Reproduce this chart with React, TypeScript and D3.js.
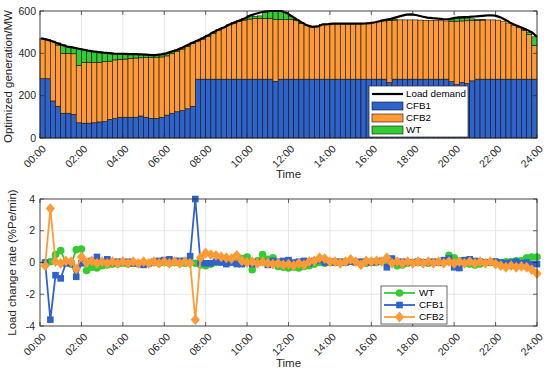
import * as d3 from 'd3';

// 15-min intervals over one day (96 slots)
const timeLabels = ['00:00', '02:00', '04:00', '06:00', '08:00', '10:00', '12:00', '14:00', '16:00', '18:00', '20:00', '22:00', '24:00'];

const cfb1 = [
  280, 280, 175, 150, 117, 117, 112, 72, 70, 70,
  72, 76, 78, 88, 92, 98, 98, 98, 98, 104,
  98, 93, 93, 98, 108, 117, 124, 130, 138, 150,
  278, 278, 278, 278, 278, 278, 278, 278, 278, 278,
  278, 278, 278, 278, 278, 268, 278, 278, 278, 278,
  278, 278, 278, 278, 278, 278, 278, 278, 278, 278,
  278, 278, 278, 278, 278, 278, 278, 262, 278, 278,
  278, 278, 278, 278, 278, 278, 278, 278, 278, 266,
  252, 262, 258, 270, 278, 278, 278, 278, 278, 278,
  278, 278, 278, 278, 278, 278,
];

const cfb2 = [
  191, 186, 281, 289, 283, 283, 286, 271, 286, 288,
  285, 282, 283, 275, 277, 274, 275, 278, 280, 275,
  282, 287, 289, 285, 280, 281, 284, 290, 295, 296,
  180, 189, 202, 216, 232, 244, 257, 265, 274, 279,
  284, 287, 287, 287, 287, 292, 282, 282, 283, 277,
  264, 254, 247, 249, 259, 260, 262, 262, 262, 262,
  262, 262, 263, 265, 268, 272, 275, 293, 279, 280,
  280, 280, 280, 279, 278, 277, 277, 276, 275, 286,
  300, 291, 296, 285, 278, 279, 280, 280, 279, 274,
  265, 254, 244, 229, 210, 160,
];

const wt = [
  0, 0, 2, 10, 40, 32, 30, 80, 62, 55,
  52, 48, 42, 38, 30, 26, 24, 20, 18, 16,
  14, 12, 10, 12, 12, 10, 8, 6, 5, 4,
  3, 5, 5, 6, 2, 0, 0, 2, 3, 8,
  16, 10, 12, 30, 34, 40, 40, 32, 15, 5,
  3, 0, 0, 0, 0, 0, 0, 0, 0, 0,
  0, 0, 0, 0, 0, 0, 0, 3, 5, 0,
  0, 0, 0, 0, 0, 0, 0, 0, 0, 10,
  12, 12, 10, 8, 5, 3, 0, 0, 0, 0,
  0, 0, 0, 5, 12, 40,
];

const loadDemand = [
  471, 466, 458, 449, 440, 432, 428, 423, 418, 413,
  409, 406, 403, 401, 399, 398, 397, 396, 396, 395,
  394, 392, 392, 395, 400, 408, 416, 426, 438, 450,
  461, 472, 485, 500, 512, 522, 535, 545, 555, 565,
  578, 586, 593, 598, 600, 600, 600, 592, 576, 560,
  545, 532, 525, 527, 537, 538, 540, 540, 540, 540,
  540, 540, 541, 543, 547, 553, 558, 563, 570, 577,
  583, 584, 580, 574, 569, 566, 564, 562, 561, 566,
  570, 571, 572, 574, 576, 578, 580, 578, 570, 558,
  543, 532, 522, 512, 500, 478,
];

const rateWT = [
  0.0, 0.05, 0.5, 0.75, 0.0, -0.1, 0.8, 0.85, -0.5, -0.3,
  -0.35, -0.2, -0.15, -0.1, -0.1, -0.05, -0.1, -0.05, -0.1, -0.05,
  -0.05, 0.0, -0.05, 0.0, -0.05, 0.0, -0.05, -0.05, 0.0, -0.05,
  -0.15, -0.2, -0.1, 0.0, 0.1, 0.05, 0.1, 0.0, 0.25, 0.35,
  -0.45, 0.1, 0.5, 0.2, 0.3, -0.25, -0.3, -0.35, -0.3, -0.35,
  -0.25, -0.2, -0.1, 0.0, -0.05, 0.0, 0.05, 0.0, 0.05, 0.1,
  0.05, 0.0, -0.05, 0.0, 0.0, 0.05, 0.1, 0.05, -0.2, -0.15,
  -0.05, 0.0, 0.0, 0.0, -0.05, 0.0, 0.0, 0.0, 0.45, 0.3,
  0.1, -0.05, -0.1, -0.15, -0.1, 0.0, 0.0, 0.05, 0.0, 0.05,
  0.05, 0.1, 0.1, 0.3, 0.35, 0.35,
];

const rateCFB1 = [
  0.0, -3.6, -0.8, -1.0, -0.05, -0.05, -0.9, -0.05, 0.05, 0.1,
  0.35, 0.05, 0.2, 0.0, 0.05, 0.0, 0.05, -0.05, -0.05, -0.15,
  -0.05, 0.05, 0.1, 0.15, 0.2, 0.1, 0.1, 0.1, 0.4, 4.0,
  0.0, -0.05, -0.05, 0.05, 0.0, -0.1, 0.0, -0.1, -0.1, 0.0,
  -0.1, 0.0, 0.05, -0.15, 0.1, 0.05, 0.1, 0.15, 0.0, 0.05,
  0.1, -0.05, 0.1, 0.15, 0.0, 0.05, 0.0, 0.05, 0.0, 0.05,
  0.0, 0.05, 0.05, 0.0, 0.05, 0.1, -0.3, 0.25, 0.0, 0.05,
  0.0, 0.0, 0.05, 0.0, 0.0, 0.05, 0.0, 0.15, 0.25, -0.3,
  -0.35, 0.15, 0.2, 0.1, 0.05, 0.0, 0.0, 0.05, 0.0, -0.05,
  0.0, 0.05, -0.05, 0.0, -0.1, -0.1,
];

const rateCFB2 = [
  -0.2, 3.4, 0.05, -0.05, 0.1, 0.05, -0.4, 0.35, 0.0, 0.1,
  -0.05, 0.05, -0.05, 0.05, -0.05, 0.05, -0.05, 0.05, -0.05, 0.05,
  -0.05, 0.05, -0.05, 0.05, -0.05, 0.05, -0.05, 0.05, -0.05, -3.6,
  0.3, 0.6, 0.5, 0.45, 0.35, 0.3, 0.25, 0.45, 0.1, 0.0,
  0.05, -0.05, 0.05, -0.05, -0.1, -0.05, -0.15, -0.1, -0.2, -0.05,
  -0.15, 0.05, 0.1, 0.3, 0.25, 0.05, 0.05, -0.05, 0.05, 0.2,
  0.05, -0.15, 0.1, 0.05, 0.1, 0.05, 0.3, -0.05, 0.05, -0.05,
  0.05, -0.05, 0.05, -0.05, 0.05, -0.05, 0.05, -0.05, 0.05, -0.05,
  0.05, -0.05, 0.05, -0.05, 0.05, -0.05, 0.05, -0.1, -0.2, -0.3,
  -0.2, -0.3, -0.25, -0.3, -0.45, -0.7,
];

const FONT = '"Liberation Sans", Arial, sans-serif';
const BLUE = '#2f63cc';
const ORANGE = '#ff9b36';
const GREEN = '#33cc33';
const AXIS = '#262626';
const GRID = '#dcdcdc';

const L = 40, R = 537;
const top1 = 11, bot1 = 138;
const top2 = 199, bot2 = 326;

const xTime = d3.scaleLinear().domain([0, 24]).range([L, R]);
const xBand = d3.scaleBand<number>().domain(d3.range(cfb1.length)).range([L, R]).padding(0);
const xPoint = d3.scalePoint<number>().domain(d3.range(loadDemand.length)).range([L + 1, R]);
const y1 = d3.scaleLinear().domain([0, 600]).range([bot1, top1]);
const y2 = d3.scaleLinear().domain([-4, 4]).range([bot2, top2]);

const hourTicks = d3.range(0, 25, 2);

function diamondPath(cx: number, cy: number, w = 4.6, h = 5.4) {
  return `M${cx},${cy - h}L${cx + w},${cy}L${cx},${cy + h}L${cx - w},${cy}Z`;
}

function XAxis({ yTop, yBot }: { yTop: number; yBot: number }) {
  return (
    <g>
      {hourTicks.map((h, i) => (
        <g key={h}>
          <line x1={xTime(h)} x2={xTime(h)} y1={yBot} y2={yBot - 4} stroke={AXIS} strokeWidth={0.7} />
          <line x1={xTime(h)} x2={xTime(h)} y1={yTop} y2={yTop + 4} stroke={AXIS} strokeWidth={0.7} />
          <text
            transform={`translate(${xTime(h) + 4},${yBot + 9}) rotate(-45)`}
            textAnchor="end"
            dy="0.35em"
            fontSize={10.5}
            fontFamily={FONT}
            fill={AXIS}
          >
            {timeLabels[i]}
          </text>
        </g>
      ))}
    </g>
  );
}

export default function App() {
  const table = cfb1.map((v, i) => ({ i, CFB1: v, CFB2: cfb2[i], WT: wt[i] }));
  const stack = d3.stack<any>().keys(['CFB1', 'CFB2', 'WT'])(table);
  const colors: Record<string, string> = { CFB1: BLUE, CFB2: ORANGE, WT: GREEN };

  const loadLine = d3.line<number>().x((_, i) => xPoint(i)!).y(d => y1(d))(loadDemand)!;

  const tRate = (i: number) => xTime((i + 1) * 0.25);
  const rLine = (arr: number[]) => d3.line<number>().x((_, i) => tRate(i)).y(d => y2(d))(arr)!;

  const y1Ticks = [0, 200, 400, 600];
  const y2Ticks = [-4, -2, 0, 2, 4];

  return (
    <svg width={550} height={372} style={{ position: 'absolute', left: 0, top: 0, background: '#fff' }}>
      <rect width={550} height={372} fill="#fff" />

      {/* ---------- top: generation ---------- */}
      {hourTicks.map(h => (
        <line key={h} x1={xTime(h)} x2={xTime(h)} y1={top1} y2={bot1} stroke={GRID} strokeWidth={0.7} />
      ))}
      {y1Ticks.map(t => (
        <line key={t} x1={L} x2={R} y1={y1(t)} y2={y1(t)} stroke={GRID} strokeWidth={0.7} />
      ))}
      {stack.map(s => (
        <g key={s.key} fill={colors[s.key]}>
          {s.map((d, i) =>
            d[1] - d[0] > 0 ? (
              <rect
                key={i}
                x={xBand(i)!}
                width={xBand.bandwidth()}
                y={y1(d[1])}
                height={y1(d[0]) - y1(d[1])}
                stroke="#111"
                strokeWidth={0.6}
              />
            ) : null
          )}
        </g>
      ))}
      <path d={loadLine} fill="none" stroke="#000" strokeWidth={2.2} strokeLinejoin="round" />
      <rect x={L} y={top1} width={R - L} height={bot1 - top1} fill="none" stroke={AXIS} strokeWidth={0.8} />
      {y1Ticks.map(t => (
        <g key={t}>
          <line x1={L} x2={L + 4} y1={y1(t)} y2={y1(t)} stroke={AXIS} strokeWidth={0.7} />
          <line x1={R} x2={R - 4} y1={y1(t)} y2={y1(t)} stroke={AXIS} strokeWidth={0.7} />
          <text x={L - 4} y={y1(t)} dy="0.35em" textAnchor="end" fontSize={10.5} fontFamily={FONT} fill={AXIS}>
            {t}
          </text>
        </g>
      ))}
      <XAxis yTop={top1} yBot={bot1} />
      <text x={(L + R) / 2} y={178} textAnchor="middle" fontSize={11.5} fontFamily={FONT} fill={AXIS}>
        Time
      </text>
      <text
        transform={`translate(12,${(top1 + bot1) / 2 + 2}) rotate(-90)`}
        textAnchor="middle"
        fontSize={11.5}
        fontFamily={FONT}
        fill={AXIS}
      >
        Optimized generation/MW
      </text>

      {/* top legend */}
      <g fontFamily={FONT} fontSize={9.8} fill="#000">
        <rect x={369} y={86} width={99} height={51} fill="#fff" stroke={AXIS} strokeWidth={0.7} />
        <line x1={372} x2={403} y1={94} y2={94} stroke="#000" strokeWidth={2.2} />
        <text x={406} y={94} dy="0.35em">Load demand</text>
        {(['CFB1', 'CFB2', 'WT'] as const).map((k, i) => (
          <g key={k}>
            <rect x={372} y={102 + i * 12} width={31} height={8} fill={colors[k]} stroke="#111" strokeWidth={0.6} />
            <text x={406} y={106 + i * 12} dy="0.35em">{k}</text>
          </g>
        ))}
      </g>

      {/* ---------- bottom: load change rate ---------- */}
      {hourTicks.map(h => (
        <line key={h} x1={xTime(h)} x2={xTime(h)} y1={top2} y2={bot2} stroke={GRID} strokeWidth={0.7} />
      ))}
      {y2Ticks.map(t => (
        <line key={t} x1={L} x2={R} y1={y2(t)} y2={y2(t)} stroke={GRID} strokeWidth={0.7} />
      ))}

      <path d={rLine(rateWT)} fill="none" stroke={GREEN} strokeWidth={1.8} />
      {rateWT.map((v, i) => (
        <circle key={i} cx={tRate(i)} cy={y2(v)} r={3.8} fill={GREEN} />
      ))}
      <path d={rLine(rateCFB1)} fill="none" stroke={BLUE} strokeWidth={1.8} />
      {rateCFB1.map((v, i) => (
        <rect key={i} x={tRate(i) - 3.3} y={y2(v) - 3.3} width={6.6} height={6.6} fill={BLUE} />
      ))}
      <path d={rLine(rateCFB2)} fill="none" stroke={ORANGE} strokeWidth={1.8} />
      {rateCFB2.map((v, i) => (
        <path key={i} d={diamondPath(tRate(i), y2(v))} fill={ORANGE} />
      ))}

      <rect x={L} y={top2} width={R - L} height={bot2 - top2} fill="none" stroke={AXIS} strokeWidth={0.8} />
      {y2Ticks.map(t => (
        <g key={t}>
          <line x1={L} x2={L + 4} y1={y2(t)} y2={y2(t)} stroke={AXIS} strokeWidth={0.7} />
          <line x1={R} x2={R - 4} y1={y2(t)} y2={y2(t)} stroke={AXIS} strokeWidth={0.7} />
          <text x={L - 5} y={y2(t)} dy="0.35em" textAnchor="end" fontSize={10.5} fontFamily={FONT} fill={AXIS}>
            {t}
          </text>
        </g>
      ))}
      <XAxis yTop={top2} yBot={bot2} />
      <text x={(L + R) / 2} y={367} textAnchor="middle" fontSize={11.5} fontFamily={FONT} fill={AXIS}>
        Time
      </text>
      <text
        transform={`translate(16,${(top2 + bot2) / 2}) rotate(-90)`}
        textAnchor="middle"
        fontSize={11.5}
        fontFamily={FONT}
        fill={AXIS}
      >
        Load change rate (%Pe/min)
      </text>

      {/* bottom legend */}
      <g fontFamily={FONT} fontSize={9.8} fill="#000">
        <rect x={381} y={286} width={66} height={38} fill="#fff" stroke={AXIS} strokeWidth={0.7} />
        <line x1={384} x2={415} y1={293} y2={293} stroke={GREEN} strokeWidth={1.8} />
        <circle cx={399.5} cy={293} r={3.8} fill={GREEN} />
        <text x={419} y={293} dy="0.35em">WT</text>
        <line x1={384} x2={415} y1={305} y2={305} stroke={BLUE} strokeWidth={1.8} />
        <rect x={396.2} y={301.7} width={6.6} height={6.6} fill={BLUE} />
        <text x={419} y={305} dy="0.35em">CFB1</text>
        <line x1={384} x2={415} y1={317} y2={317} stroke={ORANGE} strokeWidth={1.8} />
        <path d={diamondPath(399.5, 317)} fill={ORANGE} />
        <text x={419} y={317} dy="0.35em">CFB2</text>
      </g>
    </svg>
  );
}
